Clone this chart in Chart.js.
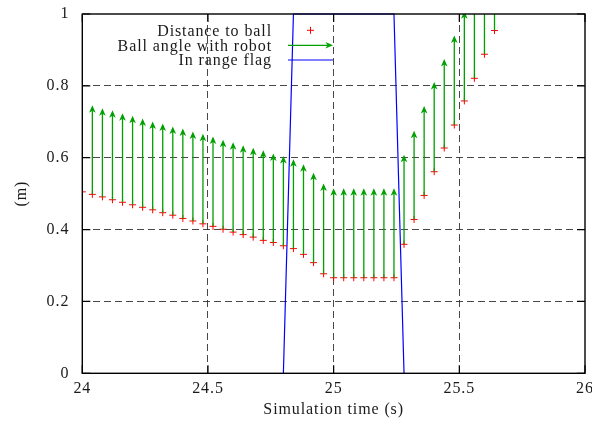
<!DOCTYPE html>
<html>
<head>
<meta charset="utf-8">
<script src="https://cdn.jsdelivr.net/npm/chart.js@4.4.1/dist/chart.umd.min.js"></script>
<style>
  html, body { margin: 0; padding: 0; background: #ffffff; }
  #wrap { width: 592px; height: 421px; }
</style>
</head>
<body>
<div id="wrap"><canvas id="chart" width="592" height="421"></canvas></div>
<script>
// Sample times (s)
const times = [
  24.00, 24.04, 24.08, 24.12, 24.16, 24.20, 24.24, 24.28, 24.32, 24.36,
  24.40, 24.44, 24.48, 24.52, 24.56, 24.60, 24.64, 24.68, 24.72, 24.76,
  24.80, 24.84, 24.88, 24.92, 24.96, 25.00, 25.04, 25.08, 25.12, 25.16,
  25.20, 25.24, 25.28, 25.32, 25.36, 25.40, 25.44, 25.48, 25.52, 25.56,
  25.60, 25.64
];

// Distance to ball (m)
const distance = [
  0.505, 0.498, 0.491, 0.483, 0.476, 0.469, 0.462, 0.455, 0.447, 0.440,
  0.431, 0.424, 0.416, 0.409, 0.401, 0.393, 0.386, 0.379, 0.370, 0.364,
  0.355, 0.347, 0.331, 0.308, 0.277, 0.266, 0.266, 0.266, 0.266, 0.266,
  0.266, 0.266, 0.359, 0.428, 0.495, 0.561, 0.627, 0.691, 0.758, 0.821,
  0.888, 0.954
];

// Tip of the ball-angle vector drawn from each distance sample
const angleTip = [
  null,  0.746, 0.738, 0.732, 0.724, 0.717, 0.709, 0.701, 0.695, 0.687,
  0.681, 0.673, 0.667, 0.659, 0.650, 0.643, 0.635, 0.628, 0.621, 0.612,
  0.605, 0.596, 0.582, 0.558, 0.528, 0.515, 0.515, 0.515, 0.515, 0.515,
  0.515, 0.515, 0.608, 0.675, 0.744, 0.811, 0.875, 0.940, 1.008, 1.071,
  1.138, 1.204
];

// In range flag (0 / 1)
const inRange = [
  0, 0, 0, 0, 0, 0, 0, 0, 0, 0,
  0, 0, 0, 0, 0, 0, 0, 0, 0, 0,
  0, 1, 1, 1, 1, 1, 1, 1, 1, 1,
  1, 1, 0, 0, 0, 0, 0, 0, 0, 0,
  0, 0
];

const xTicks = [24, 24.5, 25, 25.5, 26];
const yTicks = [0, 0.2, 0.4, 0.6, 0.8, 1];

const seriesNames = ['Distance to ball', 'Ball angle with robot', 'In range flag'];

const FONT = '"Liberation Serif", "Times New Roman", serif';
const RED = 'rgb(255,0,0)';
const GREEN = 'rgb(0,160,0)';
const BLUE = 'rgb(0,0,255)';
const TEXT = '#1a1a1a';
const SPACING = '0.9px';

function arrowHead(ctx, x, y, dir) {
  // dir: 'up' or 'right'
  ctx.beginPath();
  if (dir === 'up') {
    ctx.moveTo(x, y);
    ctx.lineTo(x - 3.3, y + 7.5);
    ctx.lineTo(x, y + 5.5);
    ctx.lineTo(x + 3.3, y + 7.5);
  } else {
    ctx.moveTo(x, y);
    ctx.lineTo(x - 7.5, y - 3.3);
    ctx.lineTo(x - 5.5, y);
    ctx.lineTo(x - 7.5, y + 3.3);
  }
  ctx.closePath();
  ctx.fill();
}

// Slightly wider text spacing for every label on the canvas
const spacingPlugin = {
  id: 'spacing',
  beforeDraw(chart) { chart.ctx.letterSpacing = SPACING; }
};

// Vertical vectors from each distance sample up to its angle tip
const vectorPlugin = {
  id: 'vectors',
  afterDatasetsDraw(chart) {
    const { ctx, chartArea: a, scales: { x, y } } = chart;
    ctx.save();
    ctx.beginPath();
    ctx.rect(a.left, a.top, a.right - a.left, a.bottom - a.top);
    ctx.clip();
    ctx.strokeStyle = GREEN;
    ctx.fillStyle = GREEN;
    ctx.lineWidth = 1.3;
    times.forEach((t, i) => {
      if (angleTip[i] == null) return;
      const px = x.getPixelForValue(t);
      const y0 = y.getPixelForValue(distance[i]);
      const y1 = y.getPixelForValue(angleTip[i]);
      ctx.beginPath();
      ctx.moveTo(px, y0);
      ctx.lineTo(px, y1 + 5);
      ctx.stroke();
      arrowHead(ctx, px, y1, 'up');
    });
    ctx.restore();
  }
};

// Plot frame with inward tics on all four sides, plus the key
const framePlugin = {
  id: 'frame',
  afterDatasetsDraw(chart) {
    const { ctx, chartArea: a, scales: { x, y } } = chart;
    ctx.save();
    ctx.strokeStyle = '#000';
    ctx.lineWidth = 1.4;
    ctx.strokeRect(a.left, a.top, a.right - a.left, a.bottom - a.top);
    const tl = 8;
    ctx.lineWidth = 1.2;
    ctx.beginPath();
    xTicks.forEach(v => {
      const px = x.getPixelForValue(v);
      ctx.moveTo(px, a.bottom); ctx.lineTo(px, a.bottom - tl);
      ctx.moveTo(px, a.top); ctx.lineTo(px, a.top + tl);
    });
    yTicks.forEach(v => {
      const py = y.getPixelForValue(v);
      ctx.moveTo(a.left, py); ctx.lineTo(a.left + tl, py);
      ctx.moveTo(a.right, py); ctx.lineTo(a.right - tl, py);
    });
    ctx.stroke();

    // key
    const textRight = 272;
    const rows = [30.3, 45.3, 60.0];
    const s0 = 288, s1 = 333;
    ctx.font = '16px ' + FONT;
    ctx.letterSpacing = SPACING;
    ctx.fillStyle = TEXT;
    ctx.textAlign = 'right';
    ctx.textBaseline = 'middle';
    seriesNames.forEach((name, i) => ctx.fillText(name, textRight, rows[i] + 1));

    ctx.strokeStyle = RED;
    ctx.lineWidth = 1;
    const cx = (s0 + s1) / 2;
    ctx.beginPath();
    ctx.moveTo(cx - 3.5, rows[0]); ctx.lineTo(cx + 3.5, rows[0]);
    ctx.moveTo(cx, rows[0] - 3.5); ctx.lineTo(cx, rows[0] + 3.5);
    ctx.stroke();

    ctx.strokeStyle = GREEN;
    ctx.fillStyle = GREEN;
    ctx.lineWidth = 1.3;
    ctx.beginPath();
    ctx.moveTo(s0, rows[1]); ctx.lineTo(s1 - 5, rows[1]);
    ctx.stroke();
    arrowHead(ctx, s1, rows[1], 'right');

    ctx.strokeStyle = BLUE;
    ctx.lineWidth = 1.2;
    ctx.beginPath();
    ctx.moveTo(s0, rows[2]); ctx.lineTo(s1, rows[2]);
    ctx.stroke();
    ctx.restore();
  }
};

const innerGrid = (ends) => (c) => {
  const v = c.tick ? c.tick.value : null;
  return (v === ends[0] || v === ends[1]) ? 'rgba(0,0,0,0)' : 'rgba(40,40,40,0.85)';
};

const fmt = v => String(Math.round(v * 100) / 100);

new Chart(document.getElementById('chart'), {
  type: 'scatter',
  data: {
    datasets: [
      {
        label: seriesNames[0],
        data: times.map((t, i) => ({ x: t, y: distance[i] })),
        pointStyle: 'cross',
        pointRadius: 3.5,
        pointHoverRadius: 3.5,
        borderColor: RED,
        backgroundColor: RED,
        borderWidth: 1,
        showLine: false,
        clip: 0
      },
      {
        label: seriesNames[2],
        type: 'line',
        data: times.map((t, i) => ({ x: t, y: inRange[i] })),
        borderColor: BLUE,
        borderWidth: 1.2,
        pointRadius: 0,
        tension: 0,
        fill: false,
        clip: false,
        // the flag lying at 0 runs along the bottom border and stays hidden
        segment: {
          borderColor: c => (c.p0.parsed.y === 0 && c.p1.parsed.y === 0) ? 'rgba(0,0,0,0)' : undefined
        }
      }
    ]
  },
  options: {
    responsive: false,
    animation: false,
    devicePixelRatio: 1,
    events: [],
    layout: { autoPadding: false, padding: { left: 0, right: 7, top: 14, bottom: 0 } },
    plugins: { legend: { display: false }, tooltip: { enabled: false } },
    scales: {
      x: {
        type: 'linear',
        min: 24,
        max: 26,
        afterBuildTicks: s => { s.ticks = xTicks.map(v => ({ value: v })); },
        afterFit: s => {
          s.height = 421 - 373.3;
          s.paddingLeft = 0; s.paddingRight = 0;
        },
        grid: { color: innerGrid([24, 26]), lineWidth: 1, drawTicks: false },
        border: { display: false, dash: [7, 4] },
        ticks: {
          font: { family: FONT, size: 16 },
          color: TEXT,
          padding: 6,
          maxRotation: 0,
          autoSkip: false,
          callback: fmt
        },
        title: {
          display: true,
          text: 'Simulation time (s)',
          font: { family: FONT, size: 16 },
          color: TEXT,
          padding: { top: 0, bottom: 2 }
        }
      },
      y: {
        type: 'linear',
        min: 0,
        max: 1,
        afterBuildTicks: s => { s.ticks = yTicks.map(v => ({ value: v })); },
        afterFit: s => {
          s.width = 82.3;
          s.paddingTop = 0; s.paddingBottom = 0;
        },
        grid: { color: innerGrid([0, 1]), lineWidth: 1, drawTicks: false },
        border: { display: false, dash: [7, 4] },
        ticks: {
          font: { family: FONT, size: 16 },
          color: TEXT,
          padding: 13,
          autoSkip: false,
          callback: fmt
        },
        title: {
          display: true,
          text: '(m)',
          font: { family: FONT, size: 16 },
          color: TEXT,
          padding: { top: 12, bottom: 0 }
        }
      }
    }
  },
  plugins: [spacingPlugin, vectorPlugin, framePlugin]
});
</script>
</body>
</html>
